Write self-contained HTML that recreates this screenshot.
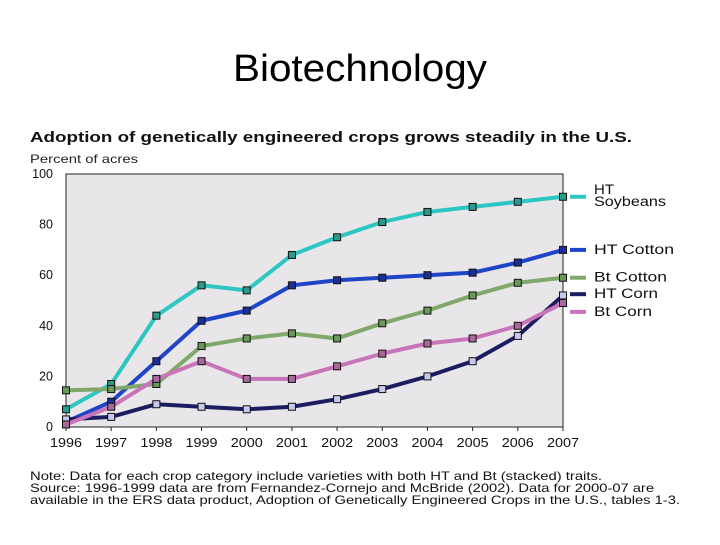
<!DOCTYPE html>
<html><head><meta charset="utf-8"><style>
body{margin:0;width:720px;height:540px;background:#fff;overflow:hidden;font-family:"Liberation Sans",sans-serif}
</style></head><body>
<svg width="720" height="540" xmlns="http://www.w3.org/2000/svg" font-family="Liberation Sans, sans-serif">
<text x="233" y="81" textLength="254" lengthAdjust="spacingAndGlyphs" font-size="38" fill="#000">Biotechnology</text>
<text x="30" y="142" textLength="602" lengthAdjust="spacingAndGlyphs" font-size="15" font-weight="bold" fill="#111">Adoption of genetically engineered crops grows steadily in the U.S.</text>
<text x="30" y="163" textLength="108" lengthAdjust="spacingAndGlyphs" font-size="12" fill="#222">Percent of acres</text>
<rect x="66" y="174" width="497" height="253" fill="#e8e6e8" stroke="#222" stroke-width="1"/>
<g id="axes"></g>
<g id="series"></g>
<g id="legend"></g>
<text x="30" y="480" textLength="572" lengthAdjust="spacingAndGlyphs" font-size="12" fill="#111">Note: Data for each crop category include varieties with both HT and Bt (stacked) traits.</text>
<text x="30" y="492" textLength="624" lengthAdjust="spacingAndGlyphs" font-size="12" fill="#111">Source: 1996-1999 data are from Fernandez-Cornejo and McBride (2002). Data for 2000-07 are</text>
<text x="30" y="504" textLength="650" lengthAdjust="spacingAndGlyphs" font-size="12" fill="#111">available in the ERS data product, Adoption of Genetically Engineered Crops in the U.S., tables 1-3.</text>
</svg>
<script>
const years=[1996,1997,1998,1999,2000,2001,2002,2003,2004,2005,2006,2007];
const yTicks=[0,20,40,60,80,100];
const htSoy=[7,17,44,56,54,68,75,81,85,87,89,91];
const htCotton=[2,10,26,42,46,56,58,59,60,61,65,70];
const btCotton=[14.5,15,17,32,35,37,35,41,46,52,57,59];
const htCorn=[3,4,9,8,7,8,11,15,20,26,36,52];
const btCorn=[1,8,19,26,19,19,24,29,33,35,40,49];
const ns="http://www.w3.org/2000/svg";
const X=i=>66+i*(563-66)/(years.length-1);
const Y=v=>427-v*(427-174)/100;
function mk(t,a,p){const e=document.createElementNS(ns,t);for(const k in a)e.setAttribute(k,a[k]);p.appendChild(e);return e;}
const ax=document.getElementById('axes');
years.forEach((y,i)=>{
 const t=mk('text',{x:X(i)-16,y:447,textLength:32,lengthAdjust:'spacingAndGlyphs','font-size':12.5,fill:'#111'},ax);t.textContent=y;
 
 
 mk('line',{x1:X(i),x2:X(i),y1:427,y2:431,stroke:'#222'},ax);
});
yTicks.forEach(v=>{
 const t=mk('text',{x:53,y:Y(v)+4,'text-anchor':'end','font-size':12.5,fill:'#111'},ax);t.textContent=v;
 
 
});
const series=[
 {name:'ht-soybeans',d:htSoy,c:'#2ec6c2',m:'#2a9a8a',lab:['HT','Soybeans'],lw:[20,72],ly:Y(91)},
 {name:'ht-cotton',d:htCotton,c:'#1e44c8',m:'#1a2f9a',lab:['HT Cotton'],lw:[80],ly:Y(70)},
 {name:'bt-cotton',d:btCotton,c:'#7fa86a',m:'#6a9a5a',lab:['Bt Cotton'],lw:[73],ly:Y(59)},
 {name:'ht-corn',d:htCorn,c:'#1c1c60',m:'#c8c8ee',lab:['HT Corn'],lw:[64],ly:Y(52.5)},
 {name:'bt-corn',d:btCorn,c:'#c874b8',m:'#a8689a',lab:['Bt Corn'],lw:[58],ly:Y(45.5)}
];
const sg=document.getElementById('series'),lg=document.getElementById('legend');
series.forEach(s=>{
 const p=mk('polyline',{points:s.d.map((v,i)=>X(i)+','+Y(v)).join(' '),fill:'none',stroke:s.c,'stroke-width':4,'stroke-linejoin':'round'},sg);
 
 
});
series.forEach(s=>{
 s.d.forEach((v,i)=>{
  const r=mk('rect',{x:X(i)-3.5,y:Y(v)-3.5,width:7,height:7,fill:s.m,stroke:'#111','stroke-width':1},sg);
  
  
 });
 const l=mk('line',{x1:570,x2:586,y1:s.ly,y2:s.ly,stroke:s.c,'stroke-width':4},lg);
 
 
 s.lab.forEach((t,j)=>{
  const tx=mk('text',{x:594,y:s.ly-(s.lab.length>1?3:-4)+j*12,textLength:s.lw[j],lengthAdjust:'spacingAndGlyphs','font-size':13.5,fill:'#111'},lg);tx.textContent=t;
  
  
 });
});
</script>
</body></html>
